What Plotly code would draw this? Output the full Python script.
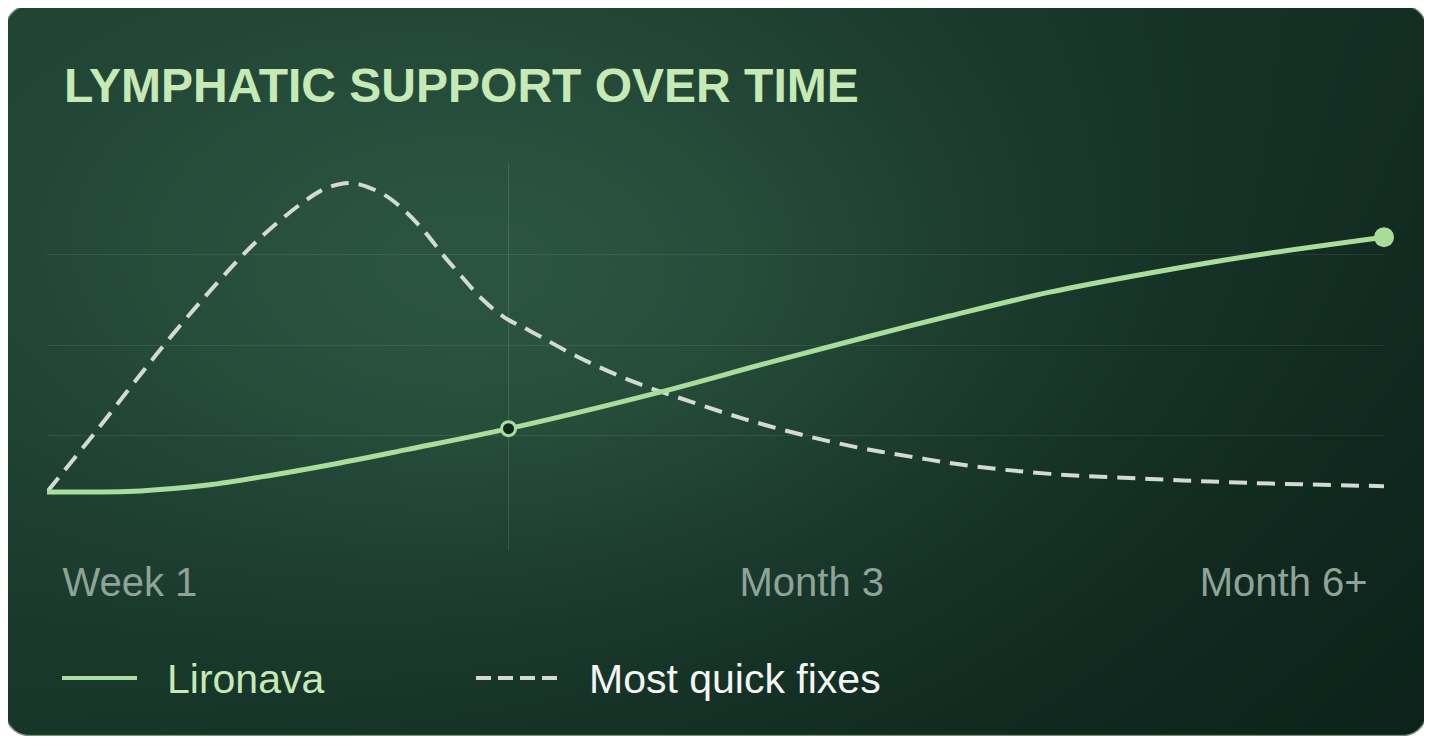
import base64
import struct
import zlib

import numpy as np
import plotly.graph_objects as go

# -----------------------------
# Data
# -----------------------------
x_lironava = [0, 7.0, 12.0, 16.9, 21.9, 26.9, 34.52, 45.85, 53.85, 61.3, 67.5, 75.0, 82.5, 90.0, 100]
y_lironava = [9.4, 9.7, 11.3, 14.1, 17.4, 21.1, 26.9, 37.0, 45.0, 52.2, 58.0, 64.6, 69.9, 74.6, 79.8]

x_quick = [0, 3.44, 6.96, 9.42, 12.79, 15.78, 19.07, 20.94, 22.81, 25.13, 26.78, 28.27,
           29.62, 31.04, 32.54, 34.18, 36.13, 39.87, 43.90, 48.02, 52.13, 56.25, 60.51,
           64.70, 69.11, 75.02, 82.50, 89.98, 100]
y_quick = [9.4, 25.1, 41.7, 53.0, 67.4, 79.0, 89.2, 93.4, 94.75, 91.7, 87.0, 81.2,
           74.9, 68.8, 62.7, 57.7, 53.9, 46.4, 39.8, 34.5, 29.6, 25.4, 21.8,
           19.1, 16.6, 14.4, 13.0, 11.9, 11.0]

highlight_mid = 6      # index of the "now" point on Lironava
highlight_end = -1     # last point

tick_pos = [6.2, 57.2, 92.5]
tick_labels = ["Week 1", "Month 3", "Month 6+"]
grid_vals = [25, 50, 75]

series_names = ["Lironava", "Most quick fixes"]
title_text = "LYMPHATIC SUPPORT OVER TIME"

# -----------------------------
# Geometry / colours
# -----------------------------
OFF = 8                       # page body margin the figure sits in
W, H = 1432 - OFF, 741 - OFF  # figure size
PL, PR, PT, PB = 47 - OFF, 1384 - OFF, 163 - OFF, 550 - OFF   # plot area in figure px
GREEN = "#aadc9c"
GREY_DASH = "#d3d9d3"
FONT = "Liberation Sans, Arial, Helvetica, sans-serif"


def px_x(px):
    # screen px -> paper x
    return (px - OFF - PL) / (PR - PL)


def px_y(py):
    # screen px -> paper y
    return (PB - (py - OFF)) / (PB - PT)


# -----------------------------
# Card background as a PNG (gradient + rounded corners)
# -----------------------------
def card_png():
    yy, xx = np.mgrid[0:H, 0:W].astype(float)
    xx += OFF
    yy += OFF
    x0, y0, x1, y1, r = 5.0, 5.0, 1427.0, 736.0, 24.0
    cx, cy = (x0 + x1) / 2, (y0 + y1) / 2
    hx, hy = (x1 - x0) / 2, (y1 - y0) / 2
    qx = np.abs(xx + 0.5 - cx) - (hx - r)
    qy = np.abs(yy + 0.5 - cy) - (hy - r)
    d = np.hypot(np.maximum(qx, 0), np.maximum(qy, 0)) + np.minimum(np.maximum(qx, qy), 0) - r

    a = np.array([29, 62, 48], float)
    b = np.array([12, 34, 26], float)
    t = np.clip(xx / 1432 * 0.62 + yy / 741 * 0.38, 0, 1)[..., None]
    base = a + (b - a) * t
    g = np.exp(-(((xx - 520) / 520) ** 2 + ((yy - 290) / 320) ** 2))[..., None]
    hl = np.array([20, 32, 24], float)
    col = base + hl * g

    border = np.array([170, 205, 160], float)
    bw = np.clip(1.0 - np.abs(d + 0.7) / 0.9, 0, 1)[..., None] * 0.8
    col = col * (1 - bw) + border * bw

    alpha = np.clip(0.5 - d, 0, 1)[..., None]
    white = np.array([255, 255, 255], float)
    col = col * alpha + white * (1 - alpha)
    img = np.clip(np.round(col), 0, 255).astype(np.int16).reshape(H, W * 3)

    flt = img.copy()
    flt[:, 3:] = (img[:, 3:] - img[:, :-3]) % 256
    raw = np.hstack([np.ones((H, 1), np.int16), flt]).astype(np.uint8).tobytes()

    def chunk(tag, data):
        c = struct.pack(">I", len(data)) + tag + data
        return c + struct.pack(">I", zlib.crc32(tag + data) & 0xFFFFFFFF)

    png = b"\x89PNG\r\n\x1a\n"
    png += chunk(b"IHDR", struct.pack(">IIBBBBB", W, H, 8, 2, 0, 0, 0))
    png += chunk(b"IDAT", zlib.compress(raw, 9))
    png += chunk(b"IEND", b"")
    return "data:image/png;base64," + base64.b64encode(png).decode()


# -----------------------------
# Figure
# -----------------------------
fig = go.Figure()

fig.add_trace(go.Scatter(
    x=x_quick, y=y_quick, mode="lines", name=series_names[1],
    line=dict(color=GREY_DASH, width=4, dash="18px,10px", shape="spline", smoothing=1),
    cliponaxis=False,
))
fig.add_trace(go.Scatter(
    x=x_lironava, y=y_lironava, mode="lines", name=series_names[0],
    line=dict(color=GREEN, width=5, shape="spline", smoothing=1),
    cliponaxis=False,
))
fig.add_trace(go.Scatter(
    x=[x_lironava[highlight_mid]], y=[y_lironava[highlight_mid]], mode="markers",
    marker=dict(size=14, color="#0e2a1f", line=dict(color=GREEN, width=3)),
    cliponaxis=False,
))
fig.add_trace(go.Scatter(
    x=[x_lironava[highlight_end]], y=[y_lironava[highlight_end]], mode="markers",
    marker=dict(size=20, color="#a8dc98"),
    cliponaxis=False,
))

# vertical "now" guide
fig.add_shape(type="line", xref="x", yref="paper",
              x0=x_lironava[highlight_mid], x1=x_lironava[highlight_mid], y0=0, y1=1,
              line=dict(color="rgba(255,255,255,0.13)", width=1), layer="below")

# title
fig.add_annotation(text=title_text, xref="paper", yref="paper",
                   x=px_x(62), y=px_y(85), xanchor="left", yanchor="middle",
                   showarrow=False,
                   font=dict(family=FONT, size=48, color="#c6e9b6", weight="bold"))

# hand-made legend (long line swatches)
fig.add_shape(type="line", xref="paper", yref="paper",
              x0=px_x(62), x1=px_x(137), y0=px_y(678), y1=px_y(678),
              line=dict(color=GREEN, width=4))
fig.add_shape(type="line", xref="paper", yref="paper",
              x0=px_x(476), x1=px_x(561), y0=px_y(678), y1=px_y(678),
              line=dict(color=GREY_DASH, width=4, dash="15px,7px"))
fig.add_annotation(text=series_names[0], xref="paper", yref="paper",
                   x=px_x(165), y=px_y(679), xanchor="left", yanchor="middle",
                   showarrow=False, font=dict(family=FONT, size=41, color="#c6e9b6"))
fig.add_annotation(text=series_names[1], xref="paper", yref="paper",
                   x=px_x(587), y=px_y(679), xanchor="left", yanchor="middle",
                   showarrow=False, font=dict(family=FONT, size=41, color="#f4f6f4"))

fig.add_layout_image(source=card_png(), xref="paper", yref="paper",
                     x=-PL / (PR - PL), y=PB / (PB - PT),
                     sizex=W / (PR - PL), sizey=H / (PB - PT),
                     xanchor="left", yanchor="top", sizing="stretch", layer="below")

fig.update_xaxes(range=[0, 100], showgrid=False, zeroline=False, showline=False,
                 tickvals=tick_pos, ticktext=tick_labels, ticks="",
                 ticklabelstandoff=5,
                 tickfont=dict(family=FONT, size=40, color="#8fa398"),
                 fixedrange=True)
fig.update_yaxes(range=[-6.63, 100.28], tickvals=grid_vals, showticklabels=False,
                 showgrid=True, gridcolor="rgba(255,255,255,0.08)", gridwidth=1,
                 zeroline=False, showline=False, fixedrange=True)

fig.update_layout(
    width=W, height=H,
    margin=dict(l=PL, r=W - PR, t=PT, b=H - PB),
    paper_bgcolor="white",
    plot_bgcolor="rgba(0,0,0,0)",
    showlegend=False,
    hovermode=False,
)

fig.write_html("out.html")
